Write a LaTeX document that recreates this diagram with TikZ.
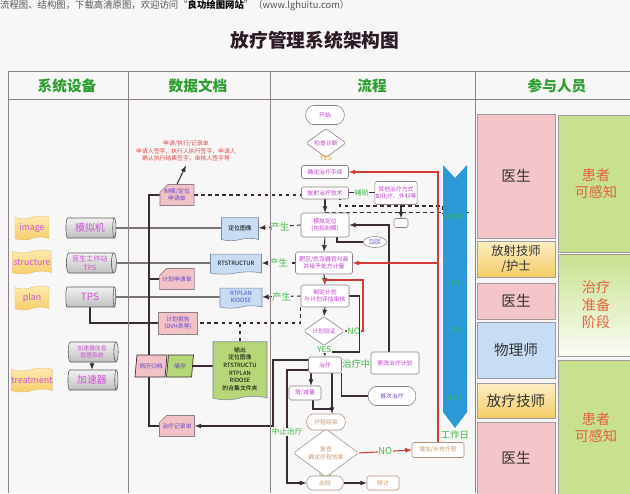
\documentclass[tikz,border=0pt]{standalone}
\usepackage{fontspec}
\setmainfont{Noto Sans CJK SC}
\usetikzlibrary{shapes.geometric,shapes.misc,shapes.symbols,backgrounds,calc}

\newcommand\fsize[2]{\fontsize{#1}{#2}\selectfont}

\definecolor{bgc}{HTML}{F7F7F7}
\definecolor{tabline}{HTML}{8E8288}
\definecolor{hdrgreen}{HTML}{2E9E32}
\definecolor{titlec}{HTML}{2B1A24}
\definecolor{notegray}{HTML}{555555}
\definecolor{devtxt}{HTML}{D24ED8}
\definecolor{flagtop}{HTML}{FDEBB0}
\definecolor{flagbot}{HTML}{F6CD6A}
\definecolor{flagline}{HTML}{E8C070}
\definecolor{docblue}{HTML}{C8DDF3}
\definecolor{docline}{HTML}{7F8A9C}
\definecolor{docgreen}{HTML}{B5D778}
\definecolor{cardpink}{HTML}{F2C2C6}
\definecolor{cardtxt}{HTML}{6848C8}
\definecolor{plantxt}{HTML}{3A58C8}
\definecolor{notered}{HTML}{E04A4A}
\definecolor{boxline}{HTML}{8C8086}
\definecolor{flowtxt}{HTML}{C240CA}
\definecolor{tantxt}{HTML}{C89A70}
\definecolor{tanline}{HTML}{B09482}
\definecolor{connc}{HTML}{3A2C33}
\definecolor{redc}{HTML}{D23A36}
\definecolor{lblgreen}{HTML}{3DBB45}
\definecolor{yesc}{HTML}{E4B44C}
\definecolor{barblue}{HTML}{2B99D6}
\definecolor{rolepink}{HTML}{F5C6C9}
\definecolor{roleblue}{HTML}{C7DDF3}
\definecolor{roletop}{HTML}{FCEFC4}
\definecolor{rolebot}{HTML}{F3CC66}
\definecolor{rolegreen}{HTML}{C8E18E}
\definecolor{roleline}{HTML}{A09A9C}
\definecolor{patient}{HTML}{E5603C}
\definecolor{firsttxt}{HTML}{6A4AC0}

\tikzset{
  flowbox/.style = {draw = boxline, fill = white, rounded corners = 1.5pt,
    line width = .5pt, align = center, text = flowtxt, font = \fsize{5}{6},
    inner sep = .5pt},
  flowstad/.style = {flowbox, rounded rectangle},
  flowdia/.style = {flowbox, diamond, inner sep = 0pt},
  tanbox/.style = {text = tantxt, draw = tanline},
  devflag/.style = {tape, tape bend height = 2.5pt, draw = flagline,
    top color = flagtop, bottom color = flagbot, text = devtxt,
    font = \fsize{7.5}{8}, inner sep = 0pt, minimum height = .72cm},
  devcyl/.style = {cylinder, shape aspect = .35, draw = gray!70!black,
    line width = .5pt, top color = gray!10, bottom color = gray!50,
    text = devtxt, align = center, inner sep = 0pt, minimum height = 1.5cm,
    minimum width = .6cm},
  datadoc/.style = {tape, tape bend top = none, tape bend height = 2pt,
    draw = docline, fill = docblue, line width = .5pt, align = center,
    font = \fsize{5}{6}, inner sep = 0pt},
  datacard/.style = {chamfered rectangle, chamfered rectangle corners = north west,
    chamfered rectangle xsep = 3pt, draw = boxline, fill = cardpink,
    line width = .5pt, align = center, text = cardtxt, font = \fsize{5}{6},
    inner sep = 0pt},
  datapar/.style = {trapezium, trapezium left angle = 70,
    trapezium right angle = 110, trapezium stretches body, draw = connc,
    line width = .6pt, text = cardtxt, font = \fsize{5}{6}, inner sep = 0pt},
  role/.style = {draw = roleline, line width = .6pt, minimum width = 2.34cm,
    font = \fsize{12.5}{15}, text = black!80, align = center, inner sep = 0pt},
  patbox/.style = {draw = roleline, line width = .6pt, fill = rolegreen,
    minimum width = 2.28cm, font = \fsize{12}{15}, text = patient,
    align = center, inner sep = 0pt},
  conn/.style = {draw = connc, line width = .9pt},
  redconn/.style = {draw = redc, line width = .9pt},
  dashconn/.style = {conn, dashed},
  lbl/.style = {text = lblgreen, fill = bgc, inner sep = .5pt, font = \fsize{8}{9}},
  hdr/.style = {text = hdrgreen, font = \bfseries\fsize{12.5}{13}},
  barlbl/.style = {text = lblgreen, font = \fsize{6}{7}}
}

\begin{document}
\begin{tikzpicture}[x = .03cm, y = -.03cm]
  \useasboundingbox (0, 0) rectangle (630, 493);
  \begin{scope}[on background layer]
    \fill[bgc] (0, 0) rectangle (630, 493);
  \end{scope}

  % title and table
  \node[anchor = west, text = notegray, font = \fsize{8}{9}, inner sep = 0pt]
  (note) at (0, 6) {流程图、结构图，下载高清原图，欢迎访问“\textbf{\color{black}良功绘图网站}”（www.lghuitu.com）};
  \node[text = titlec, font = \bfseries\fsize{16}{18}] (title) at (315, 40)
  {放疗管理系统架构图};

  \draw[tabline, line width = .7pt] (8, 71) -- (630, 71) (8, 99) -- (630, 99);
  \foreach \x in {8, 128, 270, 475}
    \draw[tabline, line width = .7pt] (\x, 71) -- (\x, 493);

  \node[hdr] (hdev) at (67, 86) {系统设备};
  \node[hdr] (hdata) at (198, 86) {数据文档};
  \node[hdr] (hflow) at (372, 86) {流程};
  \node[hdr] (hrole) at (557, 86) {参与人员};

  % devices
  \node[devflag, minimum width = 1.02cm] (fimage) at (32, 228) {image};
  \node[devflag, minimum width = 1.17cm] (fstruct) at (32, 262) {structure};
  \node[devflag, minimum width = 1.02cm] (fplan) at (32, 298) {plan};
  \node[devflag, minimum width = 1.23cm] (ftreat) at (32, 380) {treatment};

  \node[devcyl, font = \fsize{8.5}{9}] (csim) at (90, 228) {模拟机};
  \node[devcyl, font = \fsize{6}{7}] (cwork) at (90, 263) {医生工作站\\TPS};
  \node[devcyl, font = \fsize{8.5}{9}] (ctps) at (90, 297) {TPS};
  \node[devcyl, font = \fsize{5}{6}] (cinfo) at (92, 352) {加速器信息\\管理系统};
  \node[devcyl, font = \fsize{8.5}{9}] (cacc) at (92, 380) {加速器};

  % data documents
  \node[text = notered, align = center, font = \fsize{5}{6.5}] (reqnote)
  at (186, 151) {申请/执行/记录单\\申请人签字，执行人执行签字，申请人\\确认执行结果签字，审核人签字等};
  \node[datacard, minimum width = 1.02cm, minimum height = .63cm] (dmreq)
  at (177, 195) {制模/定位\\申请单};
  \node[datadoc, minimum width = 1.11cm, minimum height = .69cm] (imgdoc)
  at (240, 228) {定位图像};
  \node[datadoc, minimum width = 1.53cm, minimum height = .6cm] (rtsdoc)
  at (236, 263) {RTSTRUCTUR};
  \node[datadoc, minimum width = 1.26cm, minimum height = .6cm, text = plantxt]
  (rtpdoc) at (241, 297) {RTPLAN\\RIDOSE};
  \node[datacard, minimum width = .99cm, minimum height = .63cm] (planreq)
  at (177, 279) {计划申请单};
  \node[draw = boxline, fill = cardpink, line width = .5pt, align = center,
  text = cardtxt, font = \fsize{5}{6.5}, minimum width = 1.17cm,
  minimum height = .66cm, inner sep = 0pt] (report) at (178, 323)
  {计划报告\\(DVH表等)};
  \node[datapar, fill = cardpink, minimum width = .96cm, minimum height = .66cm]
  (archive) at (151, 366) {病历归档};
  \node[datapar, fill = docgreen, minimum width = .81cm, minimum height = .66cm]
  (store) at (180, 366) {储存};
  \node[datadoc, fill = docgreen, tape bend height = 3pt, minimum width = 1.62cm,
  minimum height = 1.74cm, font = \fsize{5}{6.5}] (outdoc) at (240, 369)
  {输出\\定位图像\\RTSTRUCTU\\RTPLAN\\RIDOSE\\的合集文件夹};
  \node[datacard, minimum width = 1.05cm, minimum height = .63cm] (record)
  at (177, 426) {治疗记录单};

  % flow
  \node[flowstad, minimum width = 1.2cm, minimum height = .57cm] (start)
  at (325, 115) {开始};
  \node[flowdia, minimum width = 1.2cm, minimum height = .69cm] (check)
  at (326, 143) {检查诊断};
  \node[text = yesc, font = \fsize{6}{7}, inner sep = 0pt] (yescheck)
  at (326, 158) {YES};
  \node[flowbox, minimum width = 1.41cm, minimum height = .39cm] (confirm)
  at (325, 172) {确定治疗手续};
  \node[flowbox, minimum width = 1.41cm, minimum height = .36cm] (rtech)
  at (325, 193) {放射治疗技术};
  \node[flowbox, minimum width = 1.17cm, minimum height = .69cm] (other)
  at (396, 193) {其他治疗方式\\如化疗、外科等};
  \node[flowbox, minimum width = .42cm, minimum height = .27cm] (smallbox)
  at (401, 223) {};
  \node[flowbox, minimum width = 1.44cm, minimum height = .72cm] (sim)
  at (325, 225) {模拟定位\\(包括制模)};
  \node[flowbox, ellipse, text = firsttxt, font = \fsize{2.5}{3},
  minimum width = .69cm, minimum height = .33cm] (mould) at (375, 242)
  {体位固定\\装置制作};
  \node[flowbox, minimum width = 1.71cm, minimum height = .66cm] (contour)
  at (324, 263) {靶区/危及器官勾画\\并给予处方计量};
  \node[flowbox, minimum width = 1.44cm, minimum height = .66cm] (plan)
  at (325, 296) {制定计划\\与计划评估审核};
  \node[flowdia, minimum width = 1.23cm, minimum height = .84cm] (verify)
  at (324, 331) {计划验证};
  \node[flowbox, minimum width = .99cm, minimum height = .48cm] (treat)
  at (325, 365) {治疗};
  \node[flowbox, minimum width = 1.44cm, minimum height = .66cm] (change)
  at (395, 363) {更改治疗计划};
  \node[flowbox, minimum width = .96cm, minimum height = .42cm] (dose)
  at (305, 393) {增/减量};
  \node[flowstad, text = firsttxt, minimum width = 1.47cm, minimum height = .57cm]
  (first) at (392, 396) {首次治疗};
  \node[flowstad, tanbox, minimum width = 1.2cm, minimum height = .48cm] (end)
  at (326, 422) {疗程结束};
  \node[flowdia, tanbox, font = \fsize{5}{6.5}, minimum width = 1.95cm,
  minimum height = .93cm] (review) at (326, 453) {复查\\确定疗程效果};
  \node[flowbox, tanbox, minimum width = 1.56cm, minimum height = .45cm] (add)
  at (438, 450) {增加/补充疗程};
  \node[flowstad, tanbox, minimum width = 1.14cm, minimum height = .42cm] (leave)
  at (325, 483) {出院};
  \node[flowbox, tanbox, minimum width = .96cm, minimum height = .42cm] (follow)
  at (383, 483) {随访};

  % working days bar
  \fill[barblue] (443, 165) -- (455, 178) -- (467, 165) -- (467, 412) --
  (455, 428) -- (443, 412) -- cycle;
  \node[barlbl] (dstart) at (455, 217) {START};
  \node[barlbl] (dseven) at (455, 283) {7D};
  \node[barlbl] (dnine) at (455, 330) {9D};
  \node[barlbl] (dlast) at (455, 398) {15D};
  \node[text = lblgreen, font = \fsize{8}{9}] (workday) at (455, 435) {工作日};

  % people
  \node[role, fill = rolepink, minimum height = 3.72cm] (doca) at (516, 176) {医生};
  \node[role, top color = roletop, bottom color = rolebot, font = \fsize{10.5}{13},
  minimum height = 1.08cm] (techa) at (516, 259) {放射技师\\/护士};
  \node[role, fill = rolepink, minimum height = 1.08cm] (docb) at (516, 301) {医生};
  \node[role, fill = roleblue, minimum height = 1.68cm] (phys) at (516, 350) {物理师};
  \node[role, top color = roletop, bottom color = rolebot, minimum height = 1.05cm]
  (techb) at (516, 400.5) {放疗技师};
  \node[role, fill = rolepink, minimum height = 2.16cm] (docc) at (516, 458) {医生};

  \node[patbox, minimum height = 4.11cm] (pata) at (596, 183.5) {患者\\可感知};
  \node[patbox, top color = rolegreen, bottom color = rolegreen!8,
  minimum height = 3.06cm] (prep) at (596, 305) {治疗\\准备\\阶段};
  \node[patbox, minimum height = 4.05cm] (patb) at (596, 427.5) {患者\\可感知};

  \coordinate (trunk) at (149, 0);
  \coordinate (dashA) at (340, 206);
  \coordinate (dashB) at (443, 214);
  \coordinate (barR) at (470, 0);
  \coordinate (yesj) at (325, 352);
  \coordinate (noturn) at (363, 280);
  \coordinate (endj) at (332, 409);
  \coordinate (recx) at (273, 0);
  \coordinate (stopx) at (287, 0);

  \begin{scope}[on background layer]
    % devices to documents
    \draw[conn] (csim.east) -- (imgdoc.west);
    \draw[conn] (cwork.east) -- (rtsdoc.west);
    \draw[conn] (ctps.east) -- (rtpdoc.west);
    \draw[conn] (ctps.south) |- (report.west);
    \draw[conn, -latex] (cinfo.south) -- (cacc.north);

    % documents
    \draw[conn] (dmreq.west) -| (trunk |- record.west) -- (record.west);
    \draw[conn] (planreq.west) -- (planreq.west -| trunk);
    \draw[conn, -latex] (dmreq.north) -- (reqnote.south);
    \draw[conn] (store.east) -- (store.east -| outdoc.west);
    \draw[dashconn] (dmreq.east) -| (dashA) -| (dashB);
    \draw[dashconn] (sim.north) -- (sim.north -| barR);
    \draw[dashconn, -latex] (sim.west) -- node[lbl] {产生} (imgdoc.east);
    \draw[dashconn, -latex] (contour.west) -- node[lbl] {产生} (rtsdoc.east);
    \draw[dashconn, -latex] (plan.west) -- node[lbl] {产生} (rtpdoc.east);
    \draw[dashconn] (plan.south west) |- (report.east);
    \draw[dashconn] (outdoc.north) -- (outdoc.north |- report.east);

    % flow
    \draw[conn, double, line width = .5pt] (rtech.east) --
    node[lbl, font = \fsize{6}{7}] {辅助} (rtech.east -| other.west);
    \draw[conn, -latex] (other.south -| smallbox) -- (smallbox.north);
    \draw[conn, -latex] (rtech.south) -- (sim.north);
    \draw[conn] ($(sim.south) + (12, 0)$) |- (mould.west);
    \draw[conn, -latex] (sim.south) -- (contour.north);
    \draw[conn, -latex] (contour.south) -- (plan.north);
    \draw[conn, -latex] (plan.south) -- (verify.north);
    \draw[redconn, -latex] (verify.east) --
    node[lbl, font = \fsize{7.5}{8}] {NO} (verify.east -| noturn) --
    (noturn) -| (plan.north);
    \draw[conn] (plan.east) -- ++(10, 0) |- (yesj);
    \draw[conn, -latex] (verify.south) --
    node[lbl, font = \fsize{7}{8}, pos = .3] {YES} (treat.north);
    \draw[conn, -latex] (treat.east) -- node[lbl] {治疗中} (change.west);
    \draw[conn, -latex] ([xshift = -.18cm]change.north) |- (sim.east);
    \draw[conn, -latex] ([yshift = .15cm]treat.west) -| (recx |- record.east) --
    (record.east);
    \draw[conn, -latex] ([yshift = -.15cm]treat.west) -| (stopx |- leave.west) --
    (leave.west);
    \draw[conn, -latex] ([xshift = -.42cm]treat.south) --
    ([xshift = -.42cm]treat.south |- dose.north);
    \draw[conn, -latex] ([xshift = .21cm]treat.south) --
    ([xshift = .21cm]treat.south |- end.north);
    \draw[conn] ([xshift = .24cm]dose.south) |- (endj);
    \draw[conn] (treat.south east) |- (first.west);
    \draw[conn, -latex] (end.south) -- (review.north);
    \draw[redconn, -latex] (review.east) --
    node[lbl, font = \fsize{8}{9}] {NO} (add.west);
    \draw[conn, -latex] (review.south) --
    node[lbl, font = \fsize{7}{8}, pos = .2] {yes} (leave.north);
    \draw[conn, -latex] (leave.east) -- (follow.west);
    \draw[redconn, -latex] (add.north) |- (confirm.east);
    \draw[redconn, -latex] (add.north |- contour.east) -- (contour.east);
  \end{scope}
  \node[lbl, font = \fsize{6.5}{7}] (stoplbl) at (287, 432) {中止治疗};
\end{tikzpicture}
\end{document}
